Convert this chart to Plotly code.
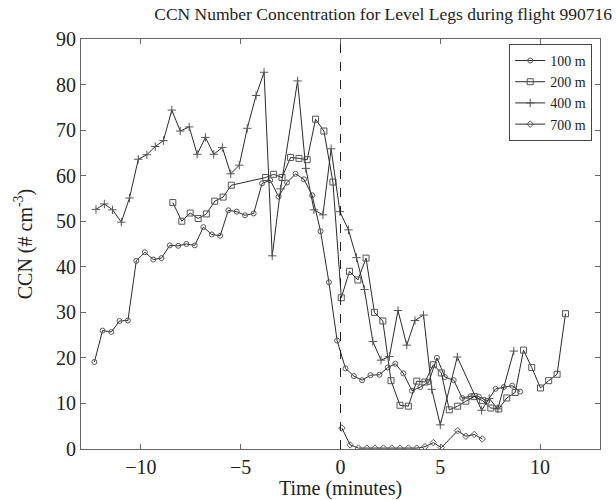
import plotly.graph_objects as go

# ---- data (time in minutes, CCN in # cm^-3) ----
t100 = [-12.33, -11.92, -11.48, -11.07, -10.65, -10.23, -9.8, -9.38, -8.97, -8.55,
        -8.13, -7.72, -7.3, -6.87, -6.45, -6.03, -5.62, -5.2, -4.78, -4.35,
        -3.93, -3.52, -3.1, -2.68, -2.25, -1.83, -1.42, -1.0, -0.58, -0.17,
        0.25, 0.67, 1.08, 1.5, 1.95, 2.37, 2.75, 3.15, 3.58, 4.0,
        4.42, 4.83, 5.23, 5.67, 6.1, 6.52, 6.93, 7.35, 7.77, 8.18, 8.6, 9.0]
v100 = [19.1, 26.0, 25.7, 28.1, 28.2, 41.3, 43.2, 41.6, 41.9, 44.7,
        44.6, 45.0, 44.7, 48.7, 47.1, 46.8, 52.4, 52.1, 51.3, 51.7,
        58.3, 59.0, 55.4, 58.5, 60.4, 59.2, 55.7, 47.8, 36.6, 23.8,
        17.7, 16.0, 15.1, 16.2, 16.3, 17.9, 18.7, 16.6, 12.8, 13.6,
        14.7, 20.0, 15.8, 15.1, 11.2, 11.6, 11.5, 10.5, 13.2, 13.6, 13.9, 12.6]

t200 = [-8.4, -7.95, -7.53, -7.13, -6.72, -6.3, -5.88, -5.47, -3.75, -3.35,
        -2.93, -2.5, -2.08, -1.67, -1.25, -0.83, -0.38, 0.04, 0.45, 0.87,
        1.28, 1.7, 2.12, 2.53, 2.98, 3.4, 3.82, 4.23, 4.65, 5.05,
        5.45, 5.87, 6.28, 6.7, 7.12, 7.53, 7.93, 8.33, 8.75, 9.17,
        9.58, 10.02, 10.43, 10.85, 11.27]
v200 = [54.1, 50.0, 51.8, 50.6, 51.6, 54.4, 55.3, 57.9, 59.6, 60.3,
        59.6, 64.0, 63.8, 63.5, 72.4, 69.8, 58.6, 33.2, 39.0, 37.1,
        41.9, 30.0, 28.1, 15.0, 9.6, 9.4, 14.9, 14.7, 18.5, 16.7,
        8.6, 9.4, 10.5, 11.5, 10.6, 9.0, 8.8, 11.2, 12.4, 21.7,
        17.9, 13.4, 15.0, 16.4, 29.7]

t400 = [-12.25, -11.83, -11.42, -10.98, -10.57, -10.13, -9.7, -9.28, -8.87, -8.45,
        -8.03, -7.58, -7.18, -6.77, -6.35, -5.92, -5.5, -5.07, -4.67, -4.23,
        -3.83, -3.42, -3.0, -2.15, -1.74, -1.33, -0.88, -0.47, -0.03, 0.4,
        0.8, 1.2, 1.62, 2.03, 2.45, 2.88, 3.32, 3.73, 4.16, 4.57,
        5.0, 5.85, 7.07, 7.45, 7.88, 8.68]
v400 = [52.6, 53.8, 52.5, 49.8, 55.1, 63.6, 64.6, 66.4, 67.7, 74.4,
        69.8, 70.7, 64.7, 68.4, 64.7, 66.2, 60.4, 62.3, 70.4, 77.6,
        82.7, 42.4, 57.1, 80.8, 61.6, 52.5, 51.4, 65.9, 52.1, 48.1,
        42.0, 35.0, 23.6, 19.5, 20.3, 30.4, 22.8, 28.2, 29.4, 13.1,
        5.3, 20.2, 8.5, 11.1, 8.8, 21.5]

t700 = [0.07, 0.48, 0.9, 1.32, 1.73, 2.15, 2.57, 2.98, 3.4, 3.82,
        4.23, 4.65, 5.05, 5.87, 6.28, 6.7, 7.1]
v700 = [4.6, 0.9, 0.2, 0.2, 0.2, 0.2, 0.2, 0.2, 0.2, 0.2,
        0.5, 1.4, 0.3, 4.0, 2.8, 3.2, 2.2]

names = ["100 m", "200 m", "400 m", "700 m"]
xtick_vals = [-10, -5, 0, 5, 10]
ytick_vals = [0, 10, 20, 30, 40, 50, 60, 70, 80, 90]

FONT = "Liberation Serif"
LINE = "#2a2a2a"
MARK = "#555555"

series = [
    (t100, v100, "circle-open", 5),
    (t200, v200, "square-open", 6),
    (t400, v400, "cross-thin-open", 6),
    (t700, v700, "diamond-open", 5),
]

fig = go.Figure()
for (tx, vy, sym, sz), nm in zip(series, names):
    fig.add_trace(go.Scatter(
        x=tx, y=vy, name=nm, mode="lines+markers",
        line=dict(color=LINE, width=1),
        marker=dict(symbol=sym, size=sz, color=MARK, line=dict(color=MARK, width=1)),
    ))

fig.add_shape(type="line", xref="x", yref="y", x0=0, x1=0, y0=0, y1=90,
              line=dict(color="#222222", width=1, dash="dash"))

axis_common = dict(
    showline=True, linecolor="#666666", linewidth=1, mirror="ticks",
    ticks="inside", ticklen=5, tickcolor="#666666",
    showgrid=False, zeroline=False, automargin=False,
    tickfont=dict(family=FONT, size=20, color="#222222"),
)

fig.update_layout(
    width=616, height=500,
    margin=dict(l=81, r=16, t=39, b=51),
    paper_bgcolor="white", plot_bgcolor="white",
    font=dict(family=FONT, color="#222222"),
    title=dict(text="CCN Number Concentration for Level Legs during flight 990716",
               font=dict(family=FONT, size=17.5, color="#222222"),
               x=0.622, xref="container", xanchor="center",
               y=0.972, yref="container", yanchor="middle"),
    xaxis=dict(range=[-13, 13], tickvals=xtick_vals,
               title=dict(text="Time (minutes)", font=dict(family=FONT, size=20), standoff=4),
               **axis_common),
    yaxis=dict(range=[0, 90], tickvals=ytick_vals,
               title=dict(text="CCN (# cm<sup>-3</sup>)", font=dict(family=FONT, size=20), standoff=18),
               **axis_common),
    legend=dict(x=0.985, xanchor="right", y=0.988, yanchor="top",
                bgcolor="white", bordercolor="#444444", borderwidth=1,
                font=dict(family=FONT, size=14, color="#222222"),
                tracegroupgap=0, itemwidth=30),
    showlegend=True,
)

fig.write_html("out.html")
